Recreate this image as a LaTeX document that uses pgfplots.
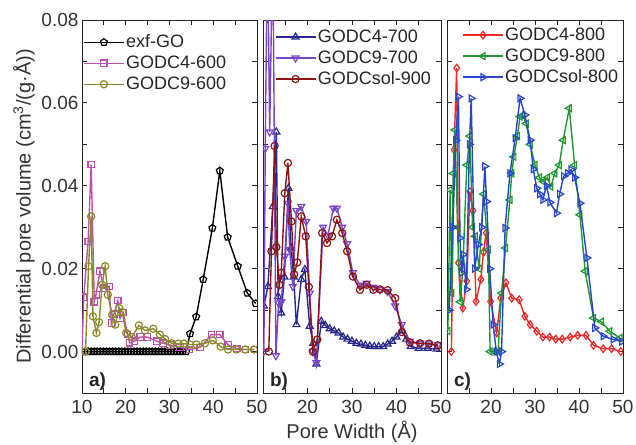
\documentclass[border=0pt]{standalone}
\usepackage{fontspec}
\setmainfont{Liberation Sans}
\usepackage{pgfplots}
\pgfplotsset{compat=1.18}
\definecolor{cexf}{RGB}{0,0,0}
\definecolor{cfoursix}{RGB}{192,80,176}
\definecolor{cninesix}{RGB}{138,138,40}
\definecolor{cfourseven}{RGB}{40,40,140}
\definecolor{cnineseven}{RGB}{120,70,200}
\definecolor{csolnine}{RGB}{140,20,20}
\definecolor{cfoureight}{RGB}{240,40,40}
\definecolor{cnineeight}{RGB}{30,150,50}
\definecolor{csoleight}{RGB}{40,70,200}
\pgfplotsset{
  myax/.style={
    scale only axis, height=373bp,
    xmin=10, xmax=50, ymin=-0.01, ymax=0.08,
    xtick={10,20,30,40,50}, minor xtick={15,25,35,45},
    ytick={0,0.02,0.04,0.06,0.08}, minor ytick={0.01,0.03,0.05,0.07},
    scaled y ticks=false,
    tick align=inside, major tick length=5bp, minor tick length=5bp,
    axis line style={color=black!85, line width=0.9bp},
    every tick/.style={black!85, line width=0.9bp},
    ticklabel style={font=\fontsize{19bp}{22bp}\selectfont, text=black!80},
    xticklabel style={yshift=-4bp},
    /pgf/number format/assume math mode=true,
    yticklabel style={/pgf/number format/fixed, /pgf/number format/fixed zerofill, /pgf/number format/precision=2},
    label style={font=\fontsize{20bp}{23bp}\selectfont, text=black!80},
    legend cell align=left,
    legend style={draw=none, fill=none, font=\fontsize{18bp}{21bp}\selectfont,
      inner sep=1bp, row sep=2bp, nodes={inner sep=1.5bp, text height=13bp, text depth=3bp, text=black!85}},
    legend image code/.code={\draw[mark repeat=2,mark phase=2,##1] plot coordinates {(0bp,0bp) (20bp,0bp) (40bp,0bp)};},
    every axis plot/.append style={line width=1.4bp, mark size=3.6bp},
    clip marker paths=true,
  },
  mk/.style={mark options={fill=white, solid, line width=1.2bp, #1}},
}
\begin{document}
\begin{tikzpicture}
\useasboundingbox (-82bp,-52bp) rectangle (554bp,393bp);
% ---------------- panel a
\begin{axis}[myax, width=175bp, at={(0bp,0bp)}, anchor=south west,
  ylabel={Differential pore volume (cm\textsuperscript{3}/(g·Å))},
  legend style={at={(0.0,0.969)}, anchor=north west}]
\addplot[color=cexf, mark=pentagon, mk={}] coordinates {
(10.0,0)(10.7,0)(11.4,0)(12.1,0)(12.8,0)(13.5,0)(14.2,0)(14.9,0)(15.6,0)(16.3,0)
(17.0,0)(17.7,0)(18.4,0)(19.1,0)(19.8,0)(20.5,0)(21.2,0)(21.9,0)(22.6,0)(23.3,0)
(24.0,0)(24.7,0)(25.4,0)(26.1,0)(26.8,0)(27.5,0)(28.2,0)(28.9,0)(29.6,0)(30.3,0)
(31.0,0)(31.7,0)(32.4,0)(33.1,0)(33.8,0)
(34.7,0.0043)(36.1,0.0084)(37.7,0.0174)(39.8,0.0298)(41.5,0.0436)(43.3,0.0276)
(45.6,0.0206)(47.8,0.0141)(49.7,0.0116)};
\addlegendentry{exf-GO}
\addplot[color=cfoursix, mark=square, mark size=3.2bp, mk={}] coordinates {
(10.0,0.0)(10.4,0.0131)(11.4,0.0266)(12.1,0.0451)(12.8,0.012)(13.2,0.0137)(14.1,0.0194)
(15.0,0.0153)(16.2,0.0157)(16.7,0.0069)(17.3,0.009)(18.2,0.0123)(18.7,0.008)(19.4,0.0094)
(20.4,0.0041)(20.9,0.0021)(22.0,0.0025)(23.3,0.0035)(24.9,0.0035)(27.1,0.0025)(28.5,0.002)
(30.1,0.0016)(32.4,0.001)(34.6,0.0005)(37.0,0.001)(39.6,0.0041)(41.5,0.0041)(43.4,0.0016)
(45.4,0.0007)(47.4,0.0005)(49.4,0.0005)};
\addlegendentry{GODC4-600}
\addplot[color=cninesix, mark=o, mk={}] coordinates {
(10.8,0.0)(11.5,0.0206)(12.1,0.0326)(12.5,0.0085)(13.3,0.0045)(13.9,0.0071)(14.6,0.0161)
(15.3,0.0206)(15.9,0.0137)(16.9,0.0089)(17.6,0.0065)(18.5,0.0105)(19.2,0.0095)(20.1,0.0045)
(21.4,0.0035)(23.0,0.0063)(24.4,0.0051)(26.3,0.0055)(27.8,0.0041)(29.0,0.003)(30.5,0.002)
(32.0,0.0019)(33.3,0.0019)(34.7,0.0017)(36.2,0.0017)(38.1,0.002)(39.9,0.0027)(41.7,0.0012)
(43.4,0.0005)(45.3,0.0005)(47.3,0.0005)(49.3,0.0005)};
\addlegendentry{GODC9-600}
\node[anchor=base west, font=\bfseries\fontsize{19bp}{22bp}\selectfont, text=black!85] at (rel axis cs:0.02,0.018) {a)};
\end{axis}
% ---------------- panel b
\begin{axis}[myax, width=178bp, at={(181bp,0bp)}, anchor=south west,
  yticklabels={}, xticklabels={,20,30,40,50},
  xlabel={Pore Width (Å)},
  legend style={at={(0.06,0.983)}, anchor=north west}]
\addplot[color=cfourseven, mark=triangle, mark size=4bp, mk={}] coordinates {
(10.2,0.011)(11.1,0.0157)(12.2,0.035)(13.0,0.053)(13.4,0.0133)(14.1,0.0093)(14.8,0.018)
(15.7,0.0394)(16.3,0.025)(16.9,0.018)(17.5,0.0065)(18.6,0.0174)(19.4,0.0198)(20.5,0.0061)
(21.3,0.002)(22.0,-0.003)(23.1,0.0073)(24.0,0.0063)(25.0,0.0055)(26.0,0.005)(27.0,0.0045)
(28.0,0.0035)(29.0,0.003)(30.0,0.0025)(31.0,0.002)(32.0,0.0018)(33.0,0.0015)(34.0,0.0013)
(35.0,0.0012)(36.0,0.0012)(37.0,0.0012)(38.0,0.0018)(39.0,0.0025)(40.0,0.0035)(41.2,0.005)
(42.2,0.003)(43.2,0.0012)(45.0,0.0008)(47.0,0.0008)(49.0,0.0006)};
\addlegendentry{GODC4-700}
\addplot[color=cnineseven, mark=triangle, mark size=4bp, mk={rotate=180}] coordinates {
(10.2,0.0)(10.5,0.049)(11.0,0.1)(11.5,0.053)(12.2,0.1)(12.9,-0.001)(13.5,0.0117)(14.1,0.012)
(14.9,0.023)(15.6,0.0358)(16.0,0.0246)(16.7,0.0157)(17.5,0.034)(18.6,0.035)(19.7,0.0314)
(20.5,0.0141)(21.2,0.0)(22.0,-0.0027)(23.5,0.030)(24.6,0.028)(25.8,0.0346)(26.6,0.0346)
(27.8,0.030)(28.9,0.026)(30.2,0.019)(31.8,0.016)(33.3,0.0165)(34.8,0.0155)(36.3,0.015)
(38.0,0.0145)(39.7,0.011)(41.2,0.0065)(43.0,0.0025)(45.3,0.002)(47.3,0.0018)(49.3,0.0016)};
\addlegendentry{GODC9-700}
\addplot[color=csolnine, mark=o, mk={}] coordinates {
(11.3,0.0)(11.9,0.0242)(12.6,0.0496)(13.0,0.0252)(13.7,0.0161)(14.1,0.019)(14.9,0.0382)
(15.6,0.0455)(16.4,0.0314)(17.0,0.0186)(17.7,0.0215)(18.6,0.0326)(19.6,0.0278)(20.3,0.0156)
(21.2,0.0)(22.2,0.0029)(23.3,0.0286)(24.4,0.0262)(25.5,0.0278)(26.6,0.0318)(27.8,0.0286)
(28.9,0.0242)(30.2,0.0181)(31.8,0.0149)(33.3,0.0161)(34.8,0.0149)(36.3,0.015)(38.0,0.0148)
(39.7,0.0129)(41.2,0.0047)(43.0,0.0022)(45.3,0.002)(47.3,0.0019)(49.3,0.0015)};
\addlegendentry{GODCsol-900}
\node[anchor=base west, font=\bfseries\fontsize{19bp}{22bp}\selectfont, text=black!85] at (rel axis cs:0.02,0.018) {b)};
\end{axis}
% ---------------- panel c
\begin{axis}[myax, width=176bp, at={(365bp,0bp)}, anchor=south west,
  yticklabels={}, xticklabels={,20,30,40,50},
  legend style={at={(0.08,0.988)}, anchor=north west}]
\addplot[color=cfoureight, mark=diamond, mark size=3.8bp, mk={}] coordinates {
(11.0,0.0)(11.6,0.0487)(12.2,0.0684)(12.6,0.0214)(13.6,0.0105)(14.5,0.017)(15.2,0.0386)
(15.9,0.034)(16.6,0.0121)(17.7,0.0174)(18.3,0.024)(18.9,0.0286)(19.9,0.0121)(21.3,0.0045)
(22.2,0.0129)(23.4,0.0166)(24.7,0.0129)(26.4,0.0125)(27.7,0.0085)(28.9,0.0065)(30.4,0.0049)
(31.8,0.0035)(33.3,0.0035)(34.7,0.003)(36.2,0.003)(38.0,0.0035)(39.7,0.0039)(41.6,0.0039)
(43.3,0.0015)(45.5,0.0007)(47.4,0.0007)(49.5,0.0)};
\addlegendentry{GODC4-800}
\addplot[color=cnineeight, mark=triangle, mark size=4bp, mk={rotate=90}] coordinates {
(10.2,0.005)(10.7,0.039)(11.1,0.0141)(11.4,0.043)(11.8,0.0535)(12.4,0.03)(13.0,0.012)
(13.6,0.02)(14.5,0.045)(15.2,0.052)(15.8,0.03)(16.4,0.0278)(17.3,0.02)(18.3,0.038)
(19.4,0.0246)(19.8,0.0)(20.7,0.0)(21.6,0.0)(22.4,0.0141)(23.3,0.025)(24.3,0.0366)(24.7,0.043)
(25.2,0.047)(26.0,0.052)(26.6,0.0567)(27.2,0.057)(28.0,0.055)(28.9,0.05)(30.0,0.045)
(31.0,0.042)(31.9,0.041)(32.8,0.042)(33.6,0.0398)(34.5,0.043)(35.5,0.045)(36.4,0.051)
(37.8,0.0587)(39.0,0.045)(40.2,0.033)(41.4,0.0194)(43.3,0.0081)(45.1,0.0072)(47.0,0.0049)
(49.3,0.0033)};
\addlegendentry{GODC9-800}
\addplot[color=csoleight, mark=triangle, mark size=4bp, mk={rotate=-90}] coordinates {
(10.5,0.010)(11.3,0.03)(12.0,0.051)(12.6,0.0615)(12.95,0.0274)(13.3,0.019)(13.7,0.0234)
(14.4,0.015)(15.1,0.050)(15.5,0.0611)(16.3,0.020)(17.1,0.0258)(17.9,0.030)(18.6,0.0447)
(19.0,0.0362)(19.7,0.020)(20.5,0.0065)(21.2,0.0)(21.9,-0.003)(22.4,0.0)(23.2,0.0298)
(24.3,0.043)(25.5,0.0515)(26.6,0.0611)(27.7,0.0571)(28.9,0.051)(29.6,0.044)(30.4,0.0394)
(31.1,0.038)(31.8,0.0366)(32.6,0.04)(33.4,0.036)(34.9,0.0334)(35.6,0.038)(36.5,0.0423)
(37.4,0.043)(38.2,0.0439)(39.0,0.042)(40.2,0.0358)(41.8,0.0226)(43.6,0.0057)(45.5,0.0037)
(47.8,0.0029)(49.7,0.0024)};
\addlegendentry{GODCsol-800}
\node[anchor=base west, font=\bfseries\fontsize{19bp}{22bp}\selectfont, text=black!85] at (rel axis cs:0.02,0.018) {c)};
\end{axis}
\end{tikzpicture}
\end{document}
